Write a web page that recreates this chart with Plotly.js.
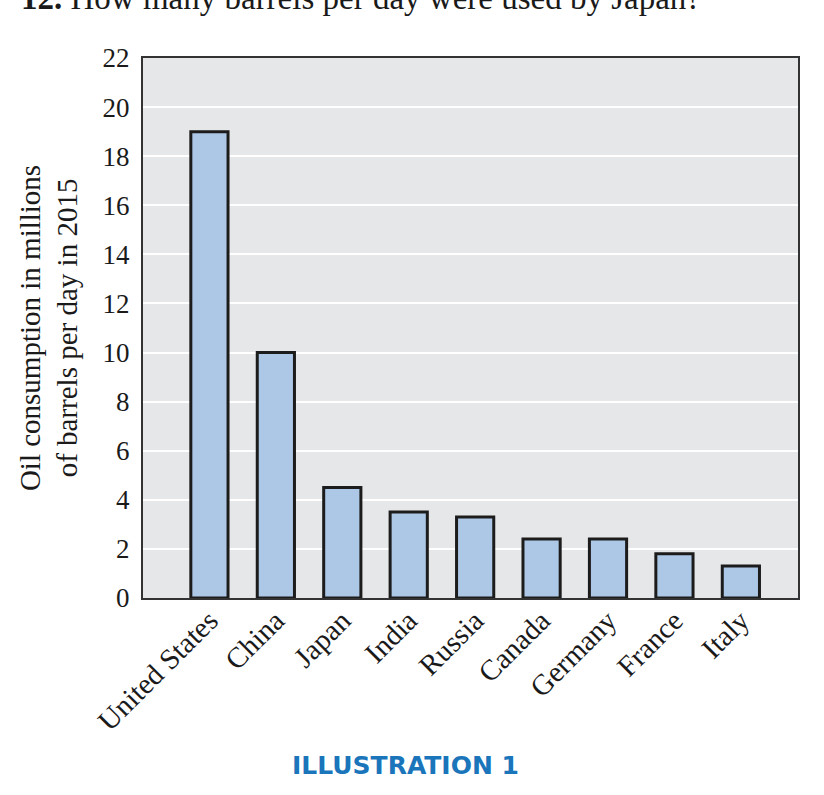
<!DOCTYPE html>
<html>
<head>
<meta charset="utf-8">
<script src="https://cdn.plot.ly/plotly-3.0.1.min.js"></script>
<style>
  html, body { margin: 0; padding: 0; background: #fff; }
  #chart { width: 824px; height: 795px; }
</style>
</head>
<body>
<div id="chart"></div>
<script>
// Oil consumption in 2015, millions of barrels per day
var countries = ['United States', 'China', 'Japan', 'India', 'Russia', 'Canada', 'Germany', 'France', 'Italy'];
var barrels = [19, 10, 4.5, 3.5, 3.3, 2.4, 2.4, 1.8, 1.3];
var yTicks = [0, 2, 4, 6, 8, 10, 12, 14, 16, 18, 20, 22];

var serif = 'Liberation Serif, Times New Roman, serif';

var trace = {
  type: 'bar',
  x: countries,
  y: barrels,
  width: 0.56,
  marker: {
    color: '#adc8e7',
    line: { color: '#1c1c1c', width: 3 }
  },
  hoverinfo: 'x+y'
};

var layout = {
  width: 824,
  height: 795,
  margin: { l: 143, r: 26, t: 58, b: 197 },
  paper_bgcolor: '#ffffff',
  plot_bgcolor: '#e6e7e8',
  showlegend: false,
  font: { family: serif, color: '#1a1a1a' },
  xaxis: {
    type: 'category',
    range: [-1, 8.86],
    tickangle: -45,
    tickfont: { family: serif, size: 29, color: '#1a1a1a' },
    showgrid: false,
    showline: true,
    mirror: true,
    linecolor: '#333333',
    linewidth: 2,
    ticks: '',
    ticklabelstandoff: -8
  },
  yaxis: {
    range: [0, 22],
    tickvals: yTicks,
    ticktext: yTicks.map(String),
    tickfont: { family: serif, size: 27, color: '#1a1a1a' },
    showgrid: true,
    gridcolor: '#ffffff',
    gridwidth: 2,
    zeroline: false,
    showline: true,
    mirror: true,
    linecolor: '#333333',
    linewidth: 2,
    ticks: '',
    ticklabelstandoff: 6,
    title: {
      text: 'Oil consumption in millions<br>of barrels per day in 2015',
      font: { family: serif, size: 29, color: '#1a1a1a' },
      standoff: 16
    }
  },
  annotations: [
    {
      text: '<b>12.</b> How many barrels per day were used by Japan?',
      xref: 'paper', yref: 'paper',
      x: -0.189, y: 1.074,
      xanchor: 'left', yanchor: 'bottom',
      showarrow: false,
      font: { family: serif, size: 33, color: '#1a1a1a' }
    },
    {
      text: '<b>ILLUSTRATION 1</b>',
      xref: 'paper', yref: 'paper',
      x: 0.40, y: -0.311,
      xanchor: 'center', yanchor: 'middle',
      showarrow: false,
      font: { family: 'DejaVu Sans, sans-serif', size: 25, color: '#1a75bb' }
    }
  ]
};

var config = { displayModeBar: false, responsive: false };

Plotly.newPlot('chart', [trace], layout, config);
</script>
</body>
</html>
